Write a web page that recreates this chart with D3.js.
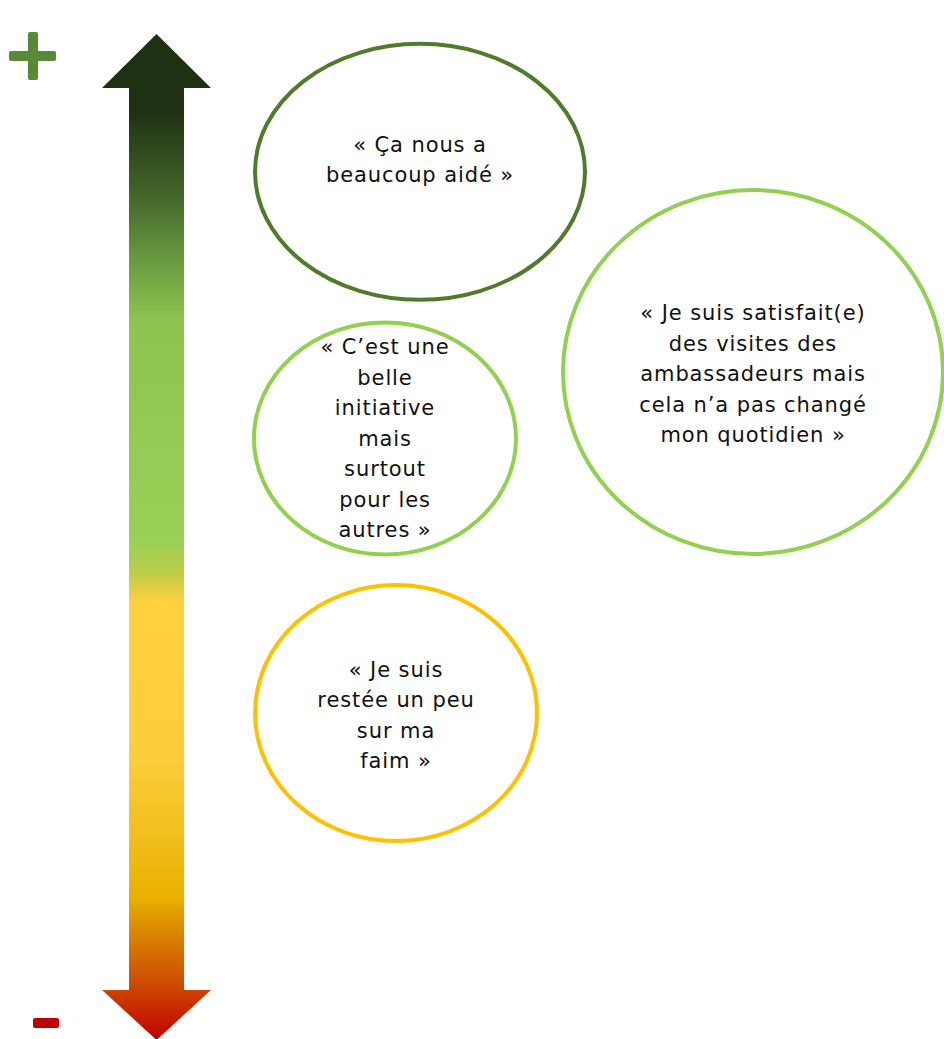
<!DOCTYPE html>
<html>
<head>
<meta charset="utf-8">
<script src="https://cdn.jsdelivr.net/npm/d3@7"></script>
<style>
  body { margin: 0; background: #fff; }
  svg { display: block; }
</style>
</head>
<body>
<div id="chart"></div>
<script>
// satisfaction level of each quote on a 0-100 scale (100 = top of the arrow)
var quotes = [
  ["« Ça nous a", "beaucoup aidé »"],
  ["« C’est une", "belle", "initiative", "mais", "surtout", "pour les", "autres »"],
  ["« Je suis  satisfait(e)", "des visites des", "ambassadeurs mais", "cela n’a pas changé", "mon quotidien »"],
  ["« Je suis", "restée un peu", "sur ma", "faim »"]
];
var levels = [86.3, 59.8, 66.4, 32.5];
var tones = ["dark", "light", "light", "yellow"];
var columns = [0, 0, 1, 0];

// gradient stops of the arrow, top (0) to bottom (1)
var gradientOffsets = [0, 0.075, 0.165, 0.225, 0.285, 0.5, 0.535, 0.565, 0.72, 0.86, 0.89, 0.95, 1];
var gradientColours = ["#1f3013", "#1f3013", "#456a2c", "#6a9a40", "#8ec450", "#97d057", "#bccd48",
                       "#ffd040", "#fcce3c", "#e8b000", "#dc8a00", "#cc4400", "#c00000"];

var width = 944, height = 1039;
var arrowTop = 34, arrowBottom = 1040;

var svg = d3.select("#chart").append("svg")
  .attr("width", width)
  .attr("height", height);

var y = d3.scaleLinear().domain([0, 100]).range([arrowBottom, arrowTop]);
var x = d3.scaleOrdinal().domain([0, 1]).range([0, 370]);

var toneStroke = { dark: "#4f7b2a", light: "#92d050", yellow: "#ffc000" };
// ellipse sizes per quote (layout only)
var shapes = [
  {dx: 420, rx: 165, ry: 128, ty: -12},
  {dx: 385, rx: 131, ry: 116, ty: 0},
  {dx: 383, rx: 190, ry: 182, ty: 2},
  {dx: 396, rx: 141, ry: 128, ty: 2}
];

// arrow gradient
var defs = svg.append("defs");
var grad = defs.append("linearGradient")
  .attr("id", "arrowGrad")
  .attr("gradientUnits", "userSpaceOnUse")
  .attr("x1", 0).attr("x2", 0)
  .attr("y1", arrowTop).attr("y2", arrowBottom);
grad.selectAll("stop")
  .data(gradientOffsets)
  .enter().append("stop")
  .attr("offset", function(d) { return d; })
  .attr("stop-color", function(d, i) { return gradientColours[i]; });

// double headed arrow
var cx = 156.5, shaftHalf = 27.5, headHalf = 54.5, headLen = 54;
var p = d3.path();
p.moveTo(cx, arrowTop);
p.lineTo(cx + headHalf, arrowTop + headLen);
p.lineTo(cx + shaftHalf, arrowTop + headLen);
p.lineTo(cx + shaftHalf, arrowBottom - headLen + 4);
p.lineTo(cx + headHalf, arrowBottom - headLen + 4);
p.lineTo(cx, arrowBottom);
p.lineTo(cx - headHalf, arrowBottom - headLen + 4);
p.lineTo(cx - shaftHalf, arrowBottom - headLen + 4);
p.lineTo(cx - shaftHalf, arrowTop + headLen);
p.lineTo(cx - headHalf, arrowTop + headLen);
p.closePath();
svg.append("path")
  .attr("d", p.toString())
  .attr("fill", "url(#arrowGrad)");

// plus sign
svg.append("rect").attr("x", 9).attr("y", 51).attr("width", 47).attr("height", 10)
  .attr("rx", 2).attr("fill", "#568a36");
svg.append("rect").attr("x", 28).attr("y", 32).attr("width", 10).attr("height", 48)
  .attr("rx", 2).attr("fill", "#568a36");

// minus sign
svg.append("rect").attr("x", 33).attr("y", 1018).attr("width", 26).attr("height", 10)
  .attr("rx", 2).attr("fill", "#c00000");

// quote bubbles
var bubbles = svg.selectAll("g.bubble")
  .data(quotes)
  .enter().append("g")
  .attr("class", "bubble")
  .attr("transform", function(d, i) {
    return "translate(" + (x(columns[i]) + shapes[i].dx) + "," + y(levels[i]) + ")";
  });

bubbles.append("ellipse")
  .attr("rx", function(d, i) { return shapes[i].rx; })
  .attr("ry", function(d, i) { return shapes[i].ry; })
  .attr("fill", "none")
  .attr("stroke", function(d, i) { return toneStroke[tones[i]]; })
  .attr("stroke-width", 4);

var lineHeight = 30.5;
bubbles.append("text")
  .attr("text-anchor", "middle")
  .attr("font-family", "'DejaVu Sans', sans-serif")
  .attr("font-size", 21)
  .attr("letter-spacing", 0.9)
  .attr("fill", "#111")
  .each(function(lines, i) {
    var t = d3.select(this);
    var start = shapes[i].ty - (lines.length - 1) * lineHeight / 2;
    lines.forEach(function(line, k) {
      t.append("tspan")
        .attr("x", 0)
        .attr("y", start + k * lineHeight)
        .attr("dy", "0.35em")
        .text(line);
    });
  });
</script>
</body>
</html>
